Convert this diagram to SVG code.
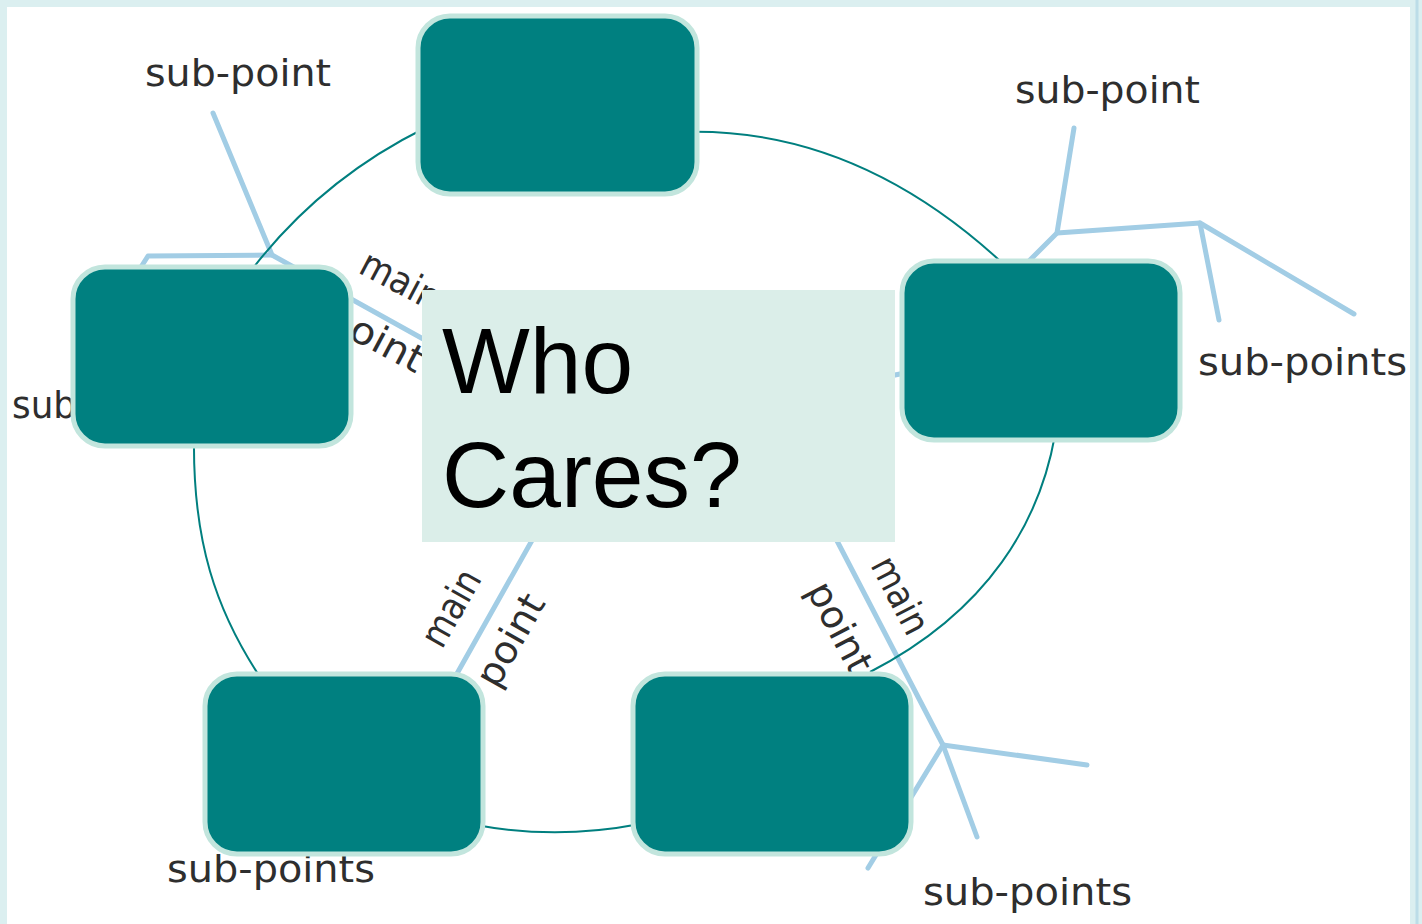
<svg xmlns="http://www.w3.org/2000/svg" width="1422" height="924" viewBox="0 0 1422 924">
<style>
.branch{fill:none;stroke:#a2cde5;stroke-width:5;stroke-linecap:round;stroke-linejoin:round}
.ring{fill:none;stroke:#007f7f;stroke-width:2}
.lbl{font-family:"DejaVu Sans","Liberation Sans",sans-serif;font-size:38px;fill:#2e2e2e}
.node rect{fill:#008080;stroke:#c2e5dd;stroke-width:5}
.ctext{font-family:"Liberation Sans",Arial,sans-serif;font-size:93px;fill:#000}
</style>
<rect x="0" y="0" width="1422" height="924" fill="#dbeff0"/>
<rect x="7" y="7" width="1403" height="917" fill="#ffffff"/>
<line x1="1417" y1="0" x2="1417" y2="924" stroke="#bcdde8" stroke-width="3"/>

<g id="connectors">
  <g id="branches">
    <polyline class="branch" points="213,113 272,255 470,365"/>
    <polyline class="branch" points="272,255 148,256 120,300"/>
    <line class="branch" x1="860" y1="382" x2="960" y2="362"/>
    <polyline class="branch" points="1074,128 1057,233 1000,290"/>
    <polyline class="branch" points="1057,233 1200,223 1219,320"/>
    <line class="branch" x1="1200" y1="223" x2="1354" y2="314"/>
    <line class="branch" x1="548" y1="512" x2="450" y2="686"/>
    <polyline class="branch" points="820,508 943,745 977,837"/>
    <line class="branch" x1="943" y1="745" x2="1087" y2="765"/>
    <line class="branch" x1="943" y1="745" x2="868" y2="868"/>
  </g>
  <g id="ring">
    <path class="ring" d="M 680,132 Q 870,125 1030,290"/>
    <path class="ring" d="M 1055,435 C 1040,520 990,610 870,672"/>
    <path class="ring" d="M 640,824 Q 557,840 476,825"/>
    <path class="ring" d="M 262,680 C 215,610 193,540 194,440"/>
    <path class="ring" d="M 250,272 Q 320,180 425,128"/>
  </g>
</g>

<g id="labels">
  <text class="lbl" x="145" y="86" textLength="186" lengthAdjust="spacingAndGlyphs">sub-point</text>
  <text class="lbl" x="1015" y="103" textLength="185" lengthAdjust="spacingAndGlyphs">sub-point</text>
  <text class="lbl" x="1198" y="375" textLength="209" lengthAdjust="spacingAndGlyphs">sub-points</text>
  <text class="lbl" x="12" y="418" textLength="64" lengthAdjust="spacingAndGlyphs">sub</text>
  <text class="lbl" x="167" y="882" textLength="208" lengthAdjust="spacingAndGlyphs">sub-points</text>
  <text class="lbl" x="923" y="905" textLength="209" lengthAdjust="spacingAndGlyphs">sub-points</text>
  <text class="lbl" transform="translate(357,272) rotate(28)" textLength="85" lengthAdjust="spacingAndGlyphs">main</text>
  <text class="lbl" transform="translate(324,325) rotate(28)" textLength="104" lengthAdjust="spacingAndGlyphs">point</text>
  <text class="lbl" transform="translate(442,650) rotate(-60.5)" textLength="82" lengthAdjust="spacingAndGlyphs">main</text>
  <text class="lbl" transform="translate(497,690) rotate(-60.5)" textLength="100" lengthAdjust="spacingAndGlyphs">point</text>
  <text class="lbl" transform="translate(870,565) rotate(62.5)" textLength="82" lengthAdjust="spacingAndGlyphs">main</text>
  <text class="lbl" transform="translate(806,590) rotate(62.5)" textLength="98" lengthAdjust="spacingAndGlyphs">point</text>
</g>

<g id="node-top" class="node"><rect x="418" y="16" width="279" height="178" rx="32"/></g>
<g id="node-left" class="node"><rect x="73" y="267" width="278" height="179" rx="32"/></g>
<g id="node-right" class="node"><rect x="902" y="261" width="278" height="179" rx="32"/></g>
<g id="node-bottom-left" class="node"><rect x="205" y="674" width="278" height="180" rx="32"/></g>
<g id="node-bottom-right" class="node"><rect x="633" y="674" width="278" height="180" rx="32"/></g>

<g id="node-center">
  <rect x="422" y="290" width="473" height="252" fill="#dbeee9"/>
  <text class="ctext" x="442" y="393">Who</text>
  <text class="ctext" x="442" y="507">Cares?</text>
</g>
</svg>
